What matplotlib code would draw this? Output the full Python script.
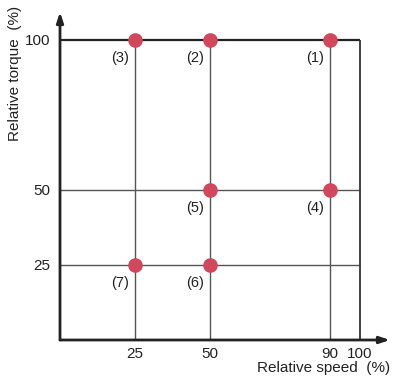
import matplotlib
matplotlib.use("Agg")
import matplotlib.pyplot as plt

plt.rcParams['font.family'] = ['Liberation Sans', 'DejaVu Sans']

# operating points (relative speed %, relative torque %)
speed = [90, 50, 25, 90, 50, 50, 25]
torque = [100, 100, 100, 50, 50, 25, 25]
point_labels = ["(1)", "(2)", "(3)", "(4)", "(5)", "(6)", "(7)"]

x_ticks = [25, 50, 90, 100]
y_ticks = [25, 50, 100]

fig = plt.figure(figsize=(3.96, 3.81), dpi=100)
ax = fig.add_axes([60/396, 41/381, 330/396, 328/381])
ax.set_xlim(0, 110)
ax.set_ylim(0, 109.3)

# grid lines
ax.vlines([25, 50, 90], 0, 100, colors="#555555", lw=1.0, zorder=1)
ax.hlines([25, 50], 0, 100, colors="#555555", lw=1.0, zorder=1)
ax.hlines(100, 0, 100, colors="#222222", lw=1.6, zorder=1)
ax.vlines(100, 0, 100, colors="#333333", lw=1.3, zorder=1)

# axes with arrows
for s in ax.spines.values():
    s.set_visible(False)
ax.annotate("", xy=(1.0, 0), xytext=(0, 0), xycoords="axes fraction",
            arrowprops=dict(arrowstyle="-|>,head_length=0.6,head_width=0.2",
                            lw=2, color="#222222", shrinkA=0, shrinkB=0))
ax.annotate("", xy=(0, 1.0), xytext=(0, 0), xycoords="axes fraction",
            arrowprops=dict(arrowstyle="-|>,head_length=0.6,head_width=0.2",
                            lw=2, color="#222222", shrinkA=0, shrinkB=0))

# points
ax.plot(speed, torque, "o", ms=9.5, color="#d2475b", zorder=3, clip_on=False)
for x, y, t in zip(speed, torque, point_labels):
    ax.annotate(t, (x, y), xytext=(-11, -13), textcoords="offset points",
                ha="center", va="center", fontsize=10.5, color="#222222")

ax.set_xticks(x_ticks)
ax.set_yticks(y_ticks)
ax.tick_params(length=0, labelsize=11, colors="#222222")
ax.tick_params(axis="x", pad=5)
ax.tick_params(axis="y", pad=7)

ax.set_xlabel("Relative speed  (%)", loc="right", fontsize=11, labelpad=0, color="#222222")
fig.text(15/396, 1 - 73/381, "Relative torque  (%)", rotation=90,
         ha="center", va="center", fontsize=11, color="#222222")

fig.savefig("out.png", dpi=100)
